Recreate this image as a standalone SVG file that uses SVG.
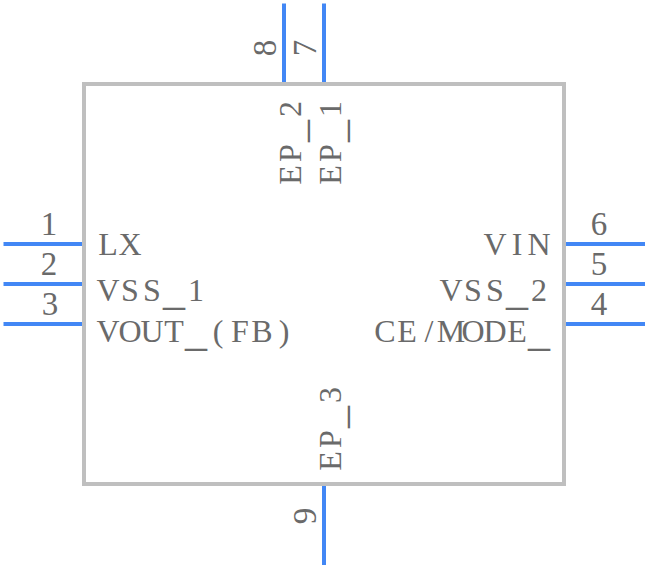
<svg xmlns="http://www.w3.org/2000/svg" width="648" height="568" viewBox="0 0 648 568">
<style>
text{font-family:"Liberation Serif","Times New Roman",serif;font-size:32px;fill:#6a6a6a}
.d{font-size:33px}
.u{font-size:44px}
.pin{stroke:#4287f5;stroke-width:4;fill:none}
#body rect{fill:none;stroke:#bfbfbf;stroke-width:4}
</style>
<rect width="648" height="568" fill="#fff"/>
<g id="body"><rect x="84" y="84" width="480" height="400"/>
<text y="255" x="98.2 118.45">LX</text>
<text y="301" x="96.45 121.1 143.1">VSS<tspan class="u" x="163" y="304">_</tspan><tspan x="188" y="301">1</tspan></text>
<text y="342" x="96.45 118.45 140.45 164.2">VOUT<tspan class="u" x="185" y="345">_</tspan><tspan x="212.65 231.1 251.35 278.65" y="342">(FB)</tspan></text>
<text y="255" x="483.45 511.65 527.45">VIN</text>
<text y="301" x="439.45 464.1 486.1">VSS<tspan class="u" x="506" y="304">_</tspan><tspan x="531" y="301">2</tspan></text>
<text y="342" x="374.35 397.2 424.55 436.8 461.45 483.45 507.2">CE/MODE<tspan class="u" x="528" y="345">_</tspan></text>
<text transform="translate(301,186) rotate(-90)" x="1.2 24.1" y="0">EP<tspan class="u" x="44" y="3">_</tspan><tspan x="69" y="0">2</tspan></text>
<text transform="translate(341,186) rotate(-90)" x="1.2 24.1" y="0">EP<tspan class="u" x="44" y="3">_</tspan><tspan x="69" y="0">1</tspan></text>
<text transform="translate(341,472) rotate(-90)" x="1.2 24.1" y="0">EP<tspan class="u" x="44" y="3">_</tspan><tspan x="69" y="0">3</tspan></text>
</g>
<g id="connectors">
<path class="pin" d="M3.5 244H82M3.5 284H82M3.5 324H82M566 244H645M566 284H645M566 324H645M284 3.5V82M324 3.5V82M324 486V565"/>
</g>
<g id="pin1"><text class="d" x="49" y="235" text-anchor="middle">1</text></g>
<g id="pin2"><text class="d" x="49" y="275" text-anchor="middle">2</text></g>
<g id="pin3"><text class="d" x="50" y="315" text-anchor="middle">3</text></g>
<g id="pin4"><text class="d" x="599" y="315" text-anchor="middle">4</text></g>
<g id="pin5"><text class="d" x="599" y="275" text-anchor="middle">5</text></g>
<g id="pin6"><text class="d" x="599" y="235" text-anchor="middle">6</text></g>
<g id="pin7"><text class="d" transform="translate(316,48) rotate(-90)" text-anchor="middle">7</text></g>
<g id="pin8"><text class="d" transform="translate(276,48) rotate(-90)" text-anchor="middle">8</text></g>
<g id="pin9"><text class="d" transform="translate(316,516) rotate(-90)" text-anchor="middle">9</text></g>
</svg>
